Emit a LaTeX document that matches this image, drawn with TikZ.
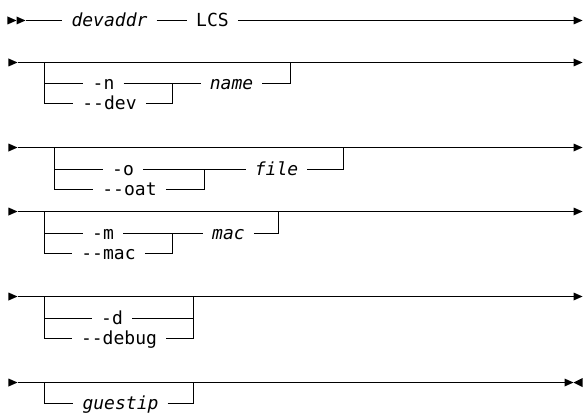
\documentclass[tikz,border=0pt]{standalone}
\usepackage{fontspec}
\setmonofont{DejaVu Sans Mono}
\begin{document}
\begin{tikzpicture}[x=1pt,y=-1pt,
  rail/.style={line width=1pt},
  kw/.style={font=\ttfamily\fontsize{18}{18}\selectfont, inner xsep=9pt, inner ysep=0pt, text height=11.5pt, text depth=0pt},
  var/.style={kw, font=\ttfamily\itshape\fontsize{18}{18}\selectfont},
  tipR/.pic={\fill (-9,-4) -- (0,0) -- (-9,4) -- cycle;},
  tipL/.pic={\fill (9,-4.5) -- (0,0) -- (9,4.5) -- cycle;}
]
\useasboundingbox (-0.5,-0.5) rectangle (582.5,411.5);

% ---------- Row 1 ----------
\pic at (16,20) {tipR};
\pic at (25,20) {tipR};
\coordinate (s1) at (25,20);
\node[var] (devaddr) at (109,20) {devaddr};
\node[kw] (lcs) at (212,20) {LCS};
\coordinate (e1) at (573,20);
\pic at (582,20) {tipR};
\draw[rail] (s1) -- (devaddr.west);
\draw[rail] (devaddr.east) -- (lcs.west);
\draw[rail] (lcs.east) -- (e1);

% ---------- Row 2 ----------
\pic at (17,62) {tipR};
\coordinate (s2) at (17,62);
\coordinate (e2) at (573,62);
\pic at (582,62) {tipR};
\draw[rail] (s2) -- (e2);
\coordinate (b2) at (44,62);
\coordinate (c2) at (290,62);
\coordinate (j2) at (172,83);
\node[kw] (n) at (103,83) {-n};
\node[kw] (dev) at (109,103) {--dev};
\node[var] (name) at (231,83) {name};
\draw[rail] (b2) |- (dev.west);
\draw[rail] (b2 |- n.west) -- (n.west);
\draw[rail] (n.east) -- (j2) -- (name.west);
\draw[rail] (dev.east) -| (j2);
\draw[rail] (name.east) -| (c2);

% ---------- Row 3 ----------
\pic at (17,147) {tipR};
\coordinate (s3) at (17,147);
\coordinate (e3) at (573,147);
\pic at (582,147) {tipR};
\draw[rail] (s3) -- (e3);
\coordinate (b3) at (54,147);
\coordinate (c3) at (343,147);
\coordinate (j3) at (204,169);
\node[kw] (o) at (122.5,169) {-o};
\node[kw] (oat) at (129,189) {--oat};
\node[var] (file) at (276,169) {file};
\draw[rail] (b3) |- (oat.west);
\draw[rail] (b3 |- o.west) -- (o.west);
\draw[rail] (o.east) -- (j3) -- (file.west);
\draw[rail] (oat.east) -| (j3);
\draw[rail] (file.east) -| (c3);

% ---------- Row 4 ----------
\pic at (17,211) {tipR};
\coordinate (s4) at (17,211);
\coordinate (e4) at (573,211);
\pic at (582,211) {tipR};
\draw[rail] (s4) -- (e4);
\coordinate (b4) at (44,211);
\coordinate (c4) at (278,211);
\coordinate (j4) at (172,233);
\node[kw] (m) at (102.5,233) {-m};
\node[kw] (macopt) at (108,253) {--mac};
\node[var] (mac) at (228,233) {mac};
\draw[rail] (b4) |- (macopt.west);
\draw[rail] (b4 |- m.west) -- (m.west);
\draw[rail] (m.east) -- (j4) -- (mac.west);
\draw[rail] (macopt.east) -| (j4);
\draw[rail] (mac.east) -| (c4);

% ---------- Row 5 ----------
\pic at (17,296) {tipR};
\coordinate (s5) at (17,296);
\coordinate (e5) at (573,296);
\pic at (582,296) {tipR};
\draw[rail] (s5) -- (e5);
\coordinate (b5) at (44,296);
\coordinate (c5) at (193,296);
\node[kw] (d) at (111.5,318) {-d};
\node[kw] (debug) at (118.5,338) {--debug};
\draw[rail] (b5) |- (debug.west);
\draw[rail] (b5 |- d.west) -- (d.west);
\draw[rail] (d.east) -- (c5 |- d.east);
\draw[rail] (debug.east) -| (c5);

% ---------- Row 6 ----------
\pic at (17,382) {tipR};
\coordinate (s6) at (17,382);
\coordinate (e6) at (564,382);
\pic at (573,382) {tipR};
\pic at (573,382) {tipL};
\draw[rail] (s6) -- (e6);
\coordinate (b6) at (44,382);
\coordinate (c6) at (193,382);
\node[var] (guestip) at (120,403) {guestip};
\draw[rail] (b6) |- (guestip.west);
\draw[rail] (guestip.east) -| (c6);
\end{tikzpicture}
\end{document}
